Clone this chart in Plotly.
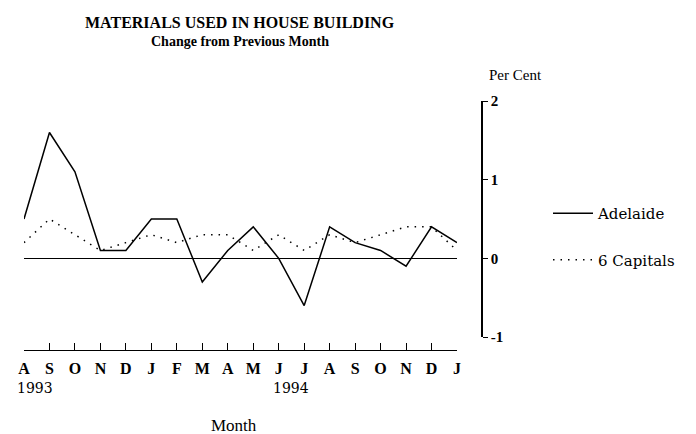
import plotly.graph_objects as go

months = ["A", "S", "O", "N", "D", "J", "F", "M", "A", "M", "J", "J", "A", "S", "O", "N", "D", "J"]
adelaide = [0.5, 1.6, 1.1, 0.1, 0.1, 0.5, 0.5, -0.3, 0.1, 0.4, 0.0, -0.6, 0.4, 0.2, 0.1, -0.1, 0.4, 0.2]
capitals = [0.2, 0.5, 0.3, 0.1, 0.2, 0.3, 0.2, 0.3, 0.3, 0.1, 0.3, 0.1, 0.3, 0.2, 0.3, 0.4, 0.4, 0.1]
years = ["1993", "1994"]
year_pos = [0, 10.5]
yticks = [2, 1, 0, -1]

x = list(range(len(months)))
serif = "Liberation Serif"

fig = go.Figure()
fig.add_trace(go.Scatter(x=x, y=adelaide, mode="lines", name="Adelaide",
                         line=dict(color="black", width=1.5), legendgroup="a"))
fig.add_trace(go.Scatter(x=x, y=capitals, mode="lines", name="6 Capitals",
                         line=dict(color="black", width=1.5, dash="1.5px,6px"), legendgroup="b"))

W, H = 696, 434
l, r, t, b = 24, W - 482, 101, H - 350
pw = W - l - r
ph = H - t - b


def px(xp):
    return (xp - l) / pw


def py(yp):
    return (H - b - yp) / ph


fig.update_layout(
    width=W, height=H,
    margin=dict(l=l, r=r, t=t, b=b, autoexpand=False),
    paper_bgcolor="white", plot_bgcolor="white",
    font=dict(family=serif, color="black", size=15),
    showlegend=True,
    legend=dict(x=px(548), y=py(197), xanchor="left", yanchor="top",
                bgcolor="rgba(0,0,0,0)", font=dict(family="DejaVu Serif", size=15),
                tracegroupgap=24, traceorder="grouped", itemwidth=40),
    xaxis=dict(domain=[0, 433 / pw], range=[0, 17], anchor="free", position=0,
               tickmode="array", tickvals=x, ticktext=months,
               ticks="inside", ticklen=7, tickcolor="black", showline=True,
               linecolor="black", linewidth=1, showgrid=False, zeroline=False,
               ticklabelstandoff=4,
               tickfont=dict(family=serif, size=16, weight="bold")),
    yaxis=dict(domain=[(350 - 337) / ph, 1], range=[-1, 2], side="right",
               anchor="free", position=1, tickmode="array", tickvals=yticks,
               ticktext=[str(v) for v in yticks], ticks="outside", ticklen=5,
               tickcolor="black", showline=True, linecolor="black", linewidth=1.5,
               showgrid=False, zeroline=True, zerolinecolor="black", zerolinewidth=1,
               tickfont=dict(family=serif, size=15, weight="bold")),
)

fig.add_annotation(x=0, xref="x", y=py(388), yref="paper", text=years[0],
                   showarrow=False, xanchor="left", yanchor="middle", xshift=-9,
                   font=dict(family="DejaVu Serif", size=14))
fig.add_annotation(x=year_pos[1], xref="x", y=py(388), yref="paper", text=years[1],
                   showarrow=False, xanchor="center", yanchor="middle",
                   font=dict(family="DejaVu Serif", size=14))
fig.add_annotation(x=px(234), xref="paper", y=py(425), yref="paper",
                   text="Month", showarrow=False, xanchor="center", yanchor="middle",
                   font=dict(family=serif, size=17))
fig.add_annotation(x=px(487), xref="paper", y=py(75), yref="paper",
                   text="Per Cent", showarrow=False, xanchor="left", yanchor="middle",
                   font=dict(family=serif, size=15))
fig.add_annotation(x=px(240), xref="paper", y=py(22), yref="paper",
                   text="<b>MATERIALS USED IN HOUSE BUILDING</b>", showarrow=False,
                   xanchor="center", yanchor="middle",
                   font=dict(family=serif, size=16))
fig.add_annotation(x=px(240), xref="paper", y=py(42), yref="paper",
                   text="<b>Change from Previous Month</b>", showarrow=False,
                   xanchor="center", yanchor="middle",
                   font=dict(family=serif, size=14))

fig.write_html("out.html", config={"displayModeBar": False},
               post_script="document.body.style.margin='0px';")
